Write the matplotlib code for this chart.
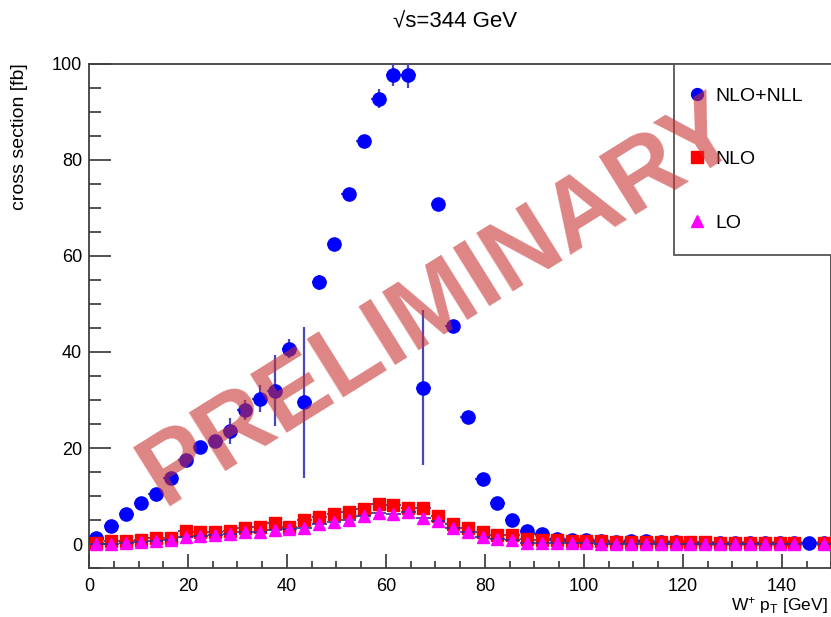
import numpy as np
import matplotlib
matplotlib.use('Agg')
from matplotlib import pyplot as plt
from matplotlib.ticker import MultipleLocator

plt.rcParams['font.family'] = ['Liberation Sans', 'DejaVu Sans']
plt.rcParams['mathtext.fontset'] = 'custom'
plt.rcParams['mathtext.rm'] = 'Liberation Sans'
plt.rcParams['mathtext.it'] = 'Liberation Sans:italic'

# W+ pT bins, 3 GeV wide
pt_centers = np.arange(1.5, 150, 3.0)
pt_halfwidth = 1.5

# NLO+NLL
xsec_nll = [1.3, 3.8, 6.3, 8.5, 10.4, 13.8, 17.5, 20.3, 21.5, 23.6,
            27.9, 30.3, 31.9, 40.7, 29.5, 54.5, 62.4, 72.9, 84.0, 92.8,
            97.8, 97.8, 32.6, 70.8, 45.5, 26.5, 13.5, 8.5, 5.1, 2.7,
            2.1, 1.0, 0.8, 0.8, 0.6, 0.5, 0.6, 0.6, 0.4, 0.35,
            0.3, 0.3, 0.3, 0.3, 0.3, 0.3, 0.3, 0.25, 0.2, 0.2]
err_nll = [0.5, 0.5, 0.5, 0.5, 0.5, 0.5, 0.5, 0.5, 0.5, 2.7,
           2.0, 2.8, 7.4, 2.0, 15.8, 1.6, 1.0, 1.3, 0.8, 1.9,
           2.3, 2.8, 16.1, 0.5, 0.6, 0.4, 0.3, 0.2, 0.2, 0.2,
           0.2, 0.2, 0.2, 0.2, 0.2, 0.2, 0.2, 0.2, 0.2, 0.2,
           0.2, 0.2, 0.2, 0.2, 0.2, 0.2, 0.2, 0.2, 0.2, 0.2]

# NLO
xsec_nlo = [0.3, 0.6, 0.6, 0.8, 1.3, 1.3, 2.8, 2.6, 2.6, 2.8,
            3.3, 3.6, 4.4, 3.6, 5.1, 5.7, 6.2, 6.7, 7.3, 8.3,
            8.1, 7.4, 7.6, 5.8, 4.2, 3.4, 2.4, 1.9, 1.9, 1.0,
            0.8, 0.8, 0.7, 0.7, 0.6, 0.5, 0.5, 0.45, 0.4, 0.4,
            0.35, 0.35, 0.3, 0.3, 0.3, 0.3, 0.3, 0.3, np.nan, 0.3]

# LO
xsec_lo = [0.0, 0.1, 0.3, 0.5, 0.7, 0.9, 1.5, 1.7, 1.8, 2.0,
           2.6, 2.6, 2.9, 3.1, 3.3, 4.2, 4.6, 5.0, 5.8, 6.4,
           6.3, 6.6, 5.4, 4.8, 3.3, 2.4, 1.5, 1.0, 0.8, 0.3,
           0.2, 0.2, 0.15, 0.15, 0.1, 0.1, 0.1, 0.1, 0.1, 0.1,
           0.1, 0.1, 0.1, 0.1, 0.1, 0.1, 0.1, 0.1, np.nan, 0.1]

labels = ['NLO+NLL', 'NLO', 'LO']

fig = plt.figure(figsize=(8.31, 6.17), dpi=100)
ax = fig.add_axes([0.1071, 0.0794, 0.8935, 0.8169])

eb_nll = ax.errorbar(pt_centers, xsec_nll, xerr=pt_halfwidth, yerr=err_nll,
                     fmt='o', color='blue', ms=9.5, ecolor='#4848b8',
                     elinewidth=1.6, capsize=0, zorder=3)
eb_nlo = ax.errorbar(pt_centers, xsec_nlo, xerr=pt_halfwidth,
                     fmt='s', color='red', ms=9, ecolor='#303090',
                     elinewidth=1.2, capsize=0, zorder=4)
eb_lo = ax.errorbar(pt_centers, xsec_lo, xerr=pt_halfwidth,
                    fmt='^', color='#ff00ff', ms=9, ecolor='#303090',
                    elinewidth=1.2, capsize=0, zorder=5)

ax.set_xlim(0, 150)
ax.set_ylim(-5, 100)

ax.xaxis.set_major_locator(MultipleLocator(20))
ax.xaxis.set_minor_locator(MultipleLocator(5))
ax.yaxis.set_major_locator(MultipleLocator(20))
ax.yaxis.set_minor_locator(MultipleLocator(5))
ax.tick_params(axis='both', which='both', direction='in', colors='#333333',
               labelcolor='black', labelsize=13, width=1.2)
ax.tick_params(axis='y', which='major', length=16, pad=5)
ax.tick_params(axis='y', which='minor', length=8.5)
ax.tick_params(axis='x', which='major', length=10, pad=7)
ax.tick_params(axis='x', which='minor', length=5)
for side in ['left', 'bottom', 'top', 'right']:
    ax.spines[side].set_color('#404040')
    ax.spines[side].set_linewidth(1.3)

leg = ax.legend([eb_nll[0], eb_nlo[0], eb_lo[0]], labels,
                loc='upper left', bbox_to_anchor=(674 / 831, 0, 0.4, 1 - 64 / 617),
                bbox_transform=fig.transFigure, mode='expand', borderaxespad=0,
                borderpad=1.2, labelspacing=2.35, handlelength=0, handletextpad=0.95,
                fancybox=False, edgecolor='#555555', framealpha=1, fontsize=14,
                markerscale=0.9)
leg.get_frame().set_linewidth(1.3)

fig.text(455 / 831, 1 - 22 / 617, '\u221as=344 GeV', ha='center', va='center', fontsize=16)
fig.text(20 / 831, 1 - 63 / 617, 'cross section [fb]', rotation=90,
         ha='center', va='top', fontsize=14)
fig.text(828 / 831, 1 - 606 / 617, r'W$^{+}$ p$_{\mathrm{T}}$ [GeV]',
         ha='right', va='center', fontsize=12.5)

# watermark
fig.text(440 / 831, 1 - 303 / 617, 'PRELIMINARY', rotation=32, rotation_mode='anchor',
         fontsize=72, fontweight='bold', color='#c83232', alpha=0.6,
         ha='center', va='center', zorder=10)

fig.savefig('out.png', dpi=100)
